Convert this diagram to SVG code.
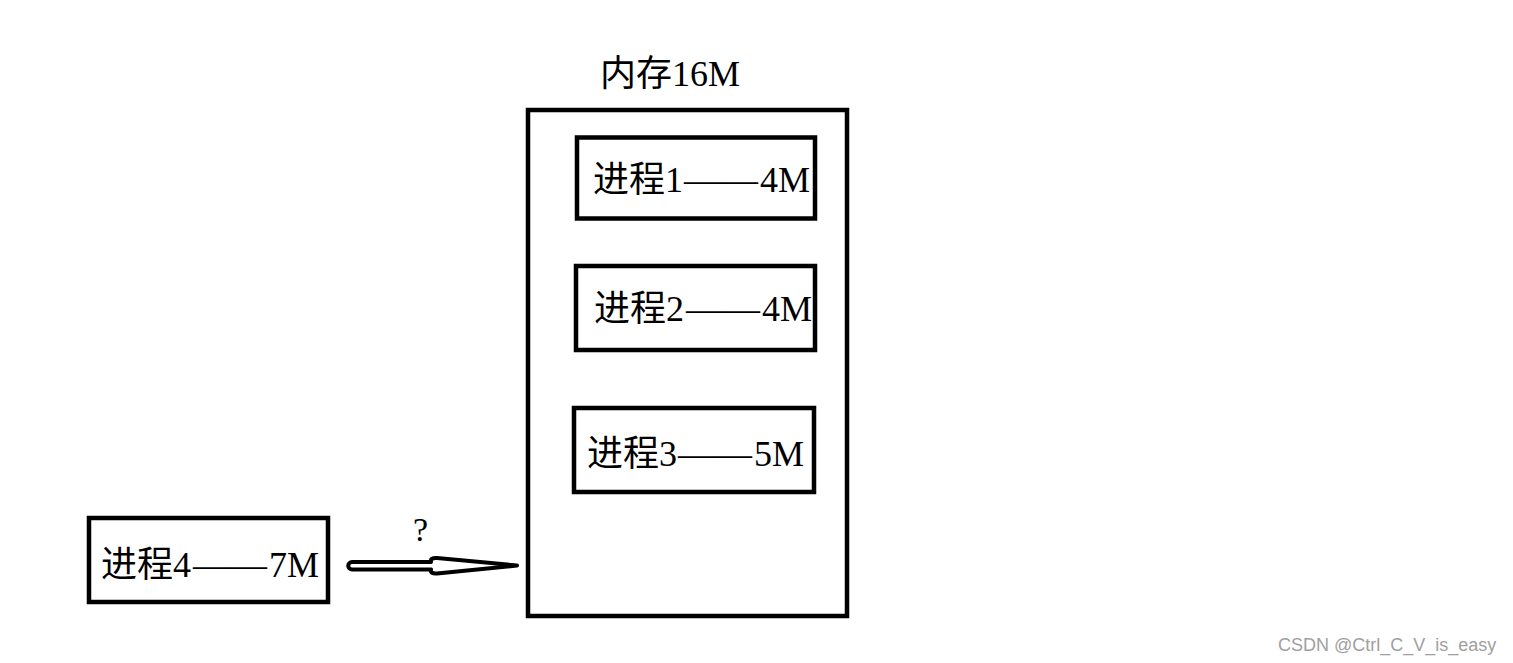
<svg xmlns="http://www.w3.org/2000/svg" width="1513" height="663" viewBox="0 0 1513 663">
<style>
.box{fill:#fff;stroke:#000;stroke-width:4.5}
.t{font-family:"Liberation Serif","Noto Sans CJK SC",serif;font-size:36px;fill:#000}
.wm{font-family:"Liberation Sans",Arial,sans-serif;font-size:18px;fill:#a0a0a0}
</style>
<rect width="1513" height="663" fill="#fff"/>
<g id="memory">
<rect class="box" x="528" y="110" width="319" height="506"/>
<text class="t" x="600" y="86">内存16M</text>
</g>
<g id="p1">
<rect class="box" x="577" y="137.5" width="238" height="81"/>
<text class="t" x="593" y="192">进程1<tspan x="684" textLength="74" lengthAdjust="spacingAndGlyphs">——</tspan><tspan x="760">4M</tspan></text>
</g>
<g id="p2">
<rect class="box" x="576" y="266" width="239" height="84"/>
<text class="t" x="594" y="321">进程2<tspan x="686" textLength="74" lengthAdjust="spacingAndGlyphs">——</tspan><tspan x="762">4M</tspan></text>
</g>
<g id="p3">
<rect class="box" x="574" y="408" width="240" height="84"/>
<text class="t" x="587" y="466">进程3<tspan x="678" textLength="74" lengthAdjust="spacingAndGlyphs">——</tspan><tspan x="754">5M</tspan></text>
</g>
<g id="p4">
<rect class="box" x="89" y="518" width="239" height="84"/>
<text class="t" x="101" y="577">进程4<tspan x="193" textLength="74" lengthAdjust="spacingAndGlyphs">——</tspan><tspan x="269">7M</tspan></text>
</g>
<g id="connectors">
<path d="M352,562 L431,562 Q430,557.5 437,558 L517,565.5 L437,573.5 Q430,574 431,569.5 L352,569.5 A3.75,3.75 0 0 1 352,562 Z" fill="#fff" stroke="#000" stroke-width="4" stroke-linejoin="round"/>
<text class="t" x="413" y="541" style="font-size:34px">?</text>
</g>
<text class="wm" x="1278" y="651">CSDN @Ctrl_C_V_is_easy</text>
</svg>
